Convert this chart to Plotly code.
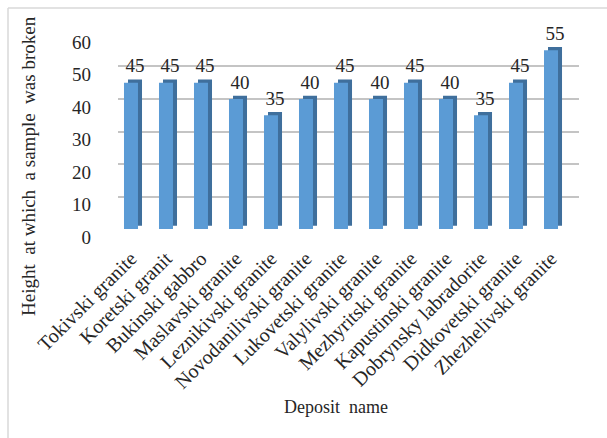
import plotly.graph_objects as go

deposits = [
    "Tokivski granite", "Koretski granit", "Bukinski gabbro", "Maslavski granite",
    "Leznikivski granite", "Novodanilivski granite", "Lukovetski granite",
    "Valylivski granite", "Mezhyritski granite", "Kapustinski granite",
    "Dobrynsky labradorite", "Didkovetski granite", "Zhezhelivski granite",
]
heights = [45, 45, 45, 40, 35, 40, 45, 40, 45, 40, 35, 45, 55]
y_ticks = [0, 10, 20, 30, 40, 50, 60]

FONT = "Liberation Serif"
TXT = "#262626"
GRID = "#C4C4C4"

W, H = 607, 438
L, R, T, B = 118, 28, 33, 208
pw = W - L - R
ph = H - T - B

def px(x):
    return (x - L) / pw

def py(y):
    return (H - B - y) / ph

fig = go.Figure()
# side/top face (darker), shifted right and up for a 3D look
fig.add_trace(go.Bar(
    x=deposits, y=heights, base=1, width=0.4, offset=-0.085,
    marker=dict(color="#3F6F9C", line=dict(width=0)),
    text=[str(v) for v in heights], textposition="outside",
    textfont=dict(family=FONT, size=19, color=TXT),
    constraintext="none", cliponaxis=False, hoverinfo="skip",
))
# front face
fig.add_trace(go.Bar(
    x=deposits, y=heights, width=0.4, offset=-0.2,
    marker=dict(color="#5B9BD5", line=dict(width=0)),
    cliponaxis=False,
))

fig.update_layout(
    width=W, height=H,
    margin=dict(l=L, r=R, t=T, b=B, pad=0),
    paper_bgcolor="white", plot_bgcolor="white",
    barmode="overlay", showlegend=False,
    font=dict(family=FONT, size=18, color=TXT),
    xaxis=dict(
        type="category", range=[-0.371, 12.8],
        tickangle=-45, tickfont=dict(family=FONT, size=20, color=TXT),
        showgrid=False, zeroline=False, showline=False, ticks="",
        ticklabelstandoff=12,
    ),
    yaxis=dict(
        range=[-0.3, 60.3], tickmode="array", tickvals=y_ticks,
        showgrid=True, gridcolor=GRID, gridwidth=2,
        zeroline=False, showline=False,
        tickfont=dict(family=FONT, size=19, color=TXT),
        ticklabelstandoff=26, ticklabelshift=8,
    ),
    annotations=[
        dict(text="Deposit\u00a0 name", x=px(336), y=py(407), xref="paper", yref="paper",
             showarrow=False, xanchor="center", yanchor="middle",
             font=dict(family=FONT, size=18, color=TXT)),
        dict(text="Height\u00a0 at which\u00a0 a sample\u00a0 was broken", textangle=-90,
             x=px(28), y=py(166), xref="paper", yref="paper",
             showarrow=False, xanchor="center", yanchor="middle",
             font=dict(family=FONT, size=19, color=TXT)),
    ],
    shapes=[
        dict(type="line", xref="paper", yref="paper", x0=px(8), x1=px(607), y0=py(8), y1=py(8),
             line=dict(color="#D9D9D9", width=1.5)),
        dict(type="line", xref="paper", yref="paper", x0=px(8), x1=px(8), y0=py(8), y1=py(438),
             line=dict(color="#D9D9D9", width=1.5)),
    ],
)

fig.write_html("out.html")
